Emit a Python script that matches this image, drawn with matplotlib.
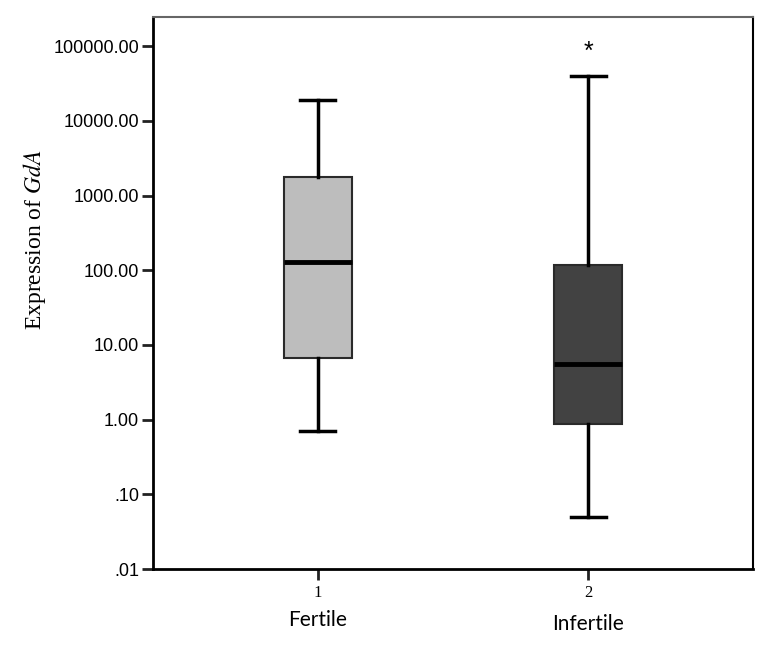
import matplotlib
matplotlib.use('Agg')
import matplotlib.pyplot as plt
import matplotlib.transforms as mtransforms

plt.rcParams['mathtext.fontset'] = 'stix'

# Box summary values (log scale)
groups = ['Fertile', 'Infertile']
positions = [1, 2]
q1 = [6.7, 0.87]
med = [129, 5.5]
q3 = [1770, 117]
wlo = [0.70, 0.05]
whi = [19000, 39800]
outliers = [[], [85000]]
fills = ['#bdbdbd', '#424242']
ytick_vals = [0.01, 0.1, 1, 10, 100, 1000, 10000, 100000]
ytick_labels = ['.01', '.10', '1.00', '10.00', '100.00', '1000.00', '10000.00', '100000.00']

stats = []
for i in range(len(groups)):
    stats.append(dict(q1=q1[i], med=med[i], q3=q3[i], whislo=wlo[i], whishi=whi[i], fliers=[]))

fig = plt.figure(figsize=(7.71, 6.46), dpi=100)
ax = fig.add_axes([153/771, 1 - 569/646, (753-153)/771, (569-17)/646])

bp = ax.bxp(stats, positions=positions, widths=0.25, patch_artist=True, showfliers=False,
            boxprops=dict(edgecolor='#2a2a2a', linewidth=1.5),
            medianprops=dict(color='black', linewidth=3.5),
            whiskerprops=dict(color='black', linewidth=2.5),
            capprops=dict(color='black', linewidth=2.5),
            capwidths=0.13)
for patch, c in zip(bp['boxes'], fills):
    patch.set_facecolor(c)

# extreme outliers drawn as asterisks
for p, outs in zip(positions, outliers):
    for v in outs:
        ax.text(p, v, '*', ha='center', va='center', fontsize=18, fontfamily='Liberation Sans')

ax.set_yscale('log')
ax.set_ylim(0.01, 10 ** 5.39)
ax.set_xlim(0.39, 2.61)
ax.set_yticks(ytick_vals)
ax.set_yticklabels(ytick_labels)
ax.minorticks_off()
ax.set_xticks(positions)
ax.set_xticklabels(['1', '2'])
for lab in ax.get_yticklabels():
    lab.set_fontfamily('Liberation Sans')
    lab.set_fontsize(13)
for lab in ax.get_xticklabels():
    lab.set_fontfamily('Liberation Serif')
    lab.set_fontsize(12)
ax.tick_params(axis='both', length=8, width=2, color='#222222')
ax.tick_params(axis='y', pad=2)

trans = mtransforms.blended_transform_factory(ax.transData, fig.transFigure)
ax.text(1, 1 - 620/646, groups[0], transform=trans, ha='center', va='center',
        fontsize=15, fontfamily='Lato')
ax.text(2, 1 - 624/646, groups[1], transform=trans, ha='center', va='center',
        fontsize=15, fontfamily='Lato')

fig.text(35/771, 1 - 240/646, 'Expression of $\\mathit{GdA}$', rotation=90,
         ha='center', va='center', fontsize=17, fontfamily='Liberation Serif')

ax.spines['left'].set_linewidth(2)
ax.spines['bottom'].set_linewidth(2)
ax.spines['right'].set_linewidth(1.5)
ax.spines['top'].set_linewidth(1.5)
ax.spines['top'].set_color('#666666')

fig.savefig('out.png', dpi=100)
